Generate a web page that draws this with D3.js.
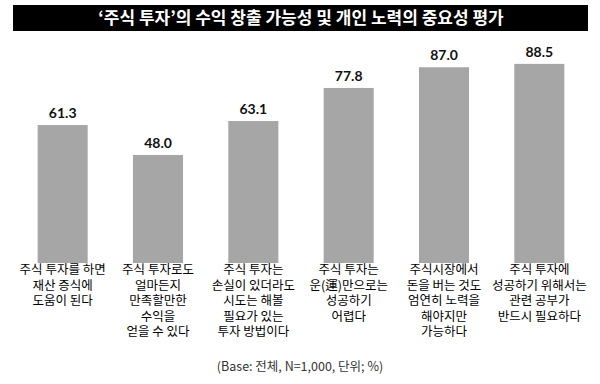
<!DOCTYPE html>
<html><head><meta charset="utf-8">
<script src="https://cdn.jsdelivr.net/npm/d3@7"></script>
<style>body{margin:0;background:#fff}svg{display:block}</style>
</head><body>
<svg id="c" width="600" height="384"></svg>
<script>
const title = "‘주식 투자’의 수익 창출 가능성 및 개인 노력의 중요성 평가";
const categories = [
  ["주식 투자를 하면","재산 증식에","도움이 된다"],
  ["주식 투자로도","얼마든지","만족할만한","수익을","얻을 수 있다"],
  ["주식 투자는","손실이 있더라도","시도는 해볼","필요가 있는","투자 방법이다"],
  ["주식 투자는","운(運)만으로는","성공하기","어렵다"],
  ["주식시장에서","돈을 버는 것도","엄연히 노력을","해야지만","가능하다"],
  ["주식 투자에","성공하기 위해서는","관련 공부가","반드시 필요하다"]
];
const values = [61.3, 48.0, 63.1, 77.8, 87.0, 88.5];
const footnote = "(Base: 전체, N=1,000, 단위; %)";

const svg = d3.select("#c");
const kr = "'Noto Sans CJK KR','Noto Sans',sans-serif";

// title bar
svg.append("rect").attr("x",13).attr("y",5).attr("width",575).attr("height",26).attr("fill","#000");
svg.append("text").attr("x",301).attr("y",24).attr("text-anchor","middle")
  .attr("fill","#fff").attr("font-family",kr).attr("font-weight","bold").attr("font-size",17)
  .text(title);

const x = d3.scaleBand().domain(d3.range(values.length)).range([15,587])
  .paddingInner(0.475).paddingOuter(0.2375);
const y = d3.scaleLinear().domain([0,100]).range([263,38]);

svg.selectAll("rect.bar").data(values).join("rect").attr("class","bar")
  .attr("x",(d,i)=>x(i)).attr("width",x.bandwidth())
  .attr("y",d=>y(d)).attr("height",d=>y(0)-y(d))
  .attr("fill","#a6a6a6");

svg.selectAll("text.val").data(values).join("text").attr("class","val")
  .attr("x",(d,i)=>x(i)+x.bandwidth()/2).attr("y",d=>y(d)-7)
  .attr("text-anchor","middle").attr("font-family","Lato,'Open Sans',sans-serif")
  .attr("font-weight","bold").attr("font-size",14).attr("fill","#111")
  .text(d=>d.toFixed(1));

const t = svg.selectAll("text.cat").data(categories).join("text").attr("class","cat")
  .attr("text-anchor","middle").attr("font-family",kr).attr("font-size",12.5).attr("fill","#000");
t.each(function(lines,i){
  const cx = x(i)+x.bandwidth()/2;
  d3.select(this).selectAll("tspan").data(lines).join("tspan")
    .attr("x",cx).attr("y",(d,j)=>274+j*15.5)
    .text(d=>d);
});

svg.append("text").attr("x",300).attr("y",371).attr("text-anchor","middle")
  .attr("font-family",kr).attr("font-size",12.5).attr("fill","#333").text(footnote);
</script>
</body></html>
